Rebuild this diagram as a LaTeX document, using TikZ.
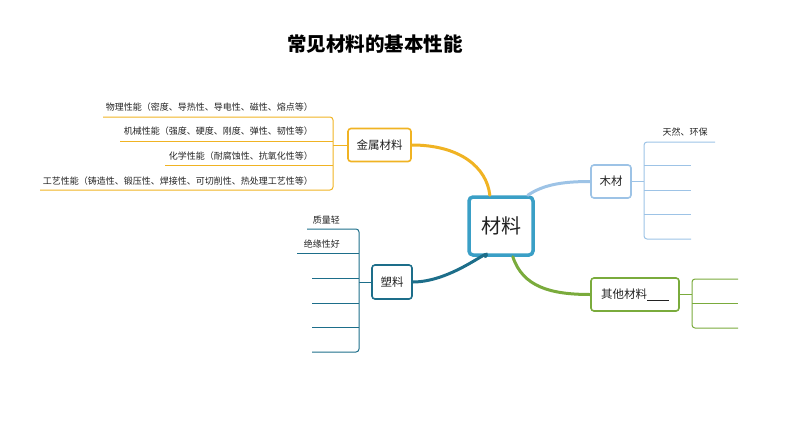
\documentclass[tikz,border=0pt]{standalone}
\usepackage{fontspec}
\setmainfont{Noto Sans CJK SC}
\usetikzlibrary{calc}
\definecolor{cmetal}{HTML}{F0B323}
\definecolor{croot}{HTML}{3A9FC6}
\definecolor{cplast}{HTML}{1D6E8A}
\definecolor{cwood}{HTML}{9DC3E6}
\definecolor{cother}{HTML}{7AAB3C}
\definecolor{ctext}{HTML}{222222}
\tikzset{
  branch/.style={draw, fill=white, line width=1.6pt, rounded corners=3pt, inner sep=0pt, text=ctext, font=\fontsize{11.5}{12}\selectfont},
  leaf/.style={inner sep=0pt, text=ctext, font=\fontsize{9}{10}\selectfont},
  bracket/.style={line width=1pt, rounded corners=3pt},
  mainlink/.style={line width=3pt, line cap=round},
}
\begin{document}
\begin{tikzpicture}[x=1pt,y=-1pt]
\useasboundingbox (0,0) rectangle (794,447);
% title
\node[inner sep=0pt, font=\fontsize{19.5}{20}\selectfont\bfseries] (title) at (375,44) {常见材料的基本性能};
% root
\node[draw=croot, fill=white, line width=3.5pt, rounded corners=4pt, minimum width=64pt, minimum height=58pt, inner sep=0pt, text=ctext, font=\fontsize{20}{22}\selectfont] (root) at (501,226) {材料};
% branches
\node[branch, draw=cmetal, minimum width=63pt, minimum height=33pt] (metal) at (379.5,145) {金属材料};
\node[branch, draw=cplast, minimum width=40pt, minimum height=34pt] (plast) at (392,282) {塑料};
\node[branch, draw=cwood, minimum width=40pt, minimum height=33pt] (wood) at (611,181.5) {木材};
\node[branch, draw=cother, minimum width=88pt, minimum height=33pt] (other) at (635,294.5) {其他材料\underline{\hspace{22pt}}};
% main links
\draw[mainlink, cmetal] (metal.east) .. controls +(48,0) and +(-3,-28) .. (root.110);
\draw[mainlink, cplast] (plast.east) .. controls +(40,0) and +(8,-12) .. (root.243);
\draw[mainlink, cwood] (root.49) .. controls +(15,-10) and +(-30,0) .. (wood.west);
\draw[mainlink, cother] (root.291) .. controls +(10,30) and +(-40,0) .. (other.west);
% metal bracket
\coordinate (mb) at (333,145);
\draw[cmetal, line width=1pt] (metal.west) -- (mb);
\draw[cmetal, bracket] (103,117) -- (333,117) -- (333,190) -- (40,190);
\draw[cmetal, line width=1pt] (120,141.5) -- (333,141.5);
\draw[cmetal, line width=1pt] (165,165.5) -- (333,165.5);
\node[leaf, anchor=base east] (m1) at (313,110) {物理性能（密度、导热性、导电性、磁性、熔点等）};
\node[leaf, anchor=base east] (m2) at (313,134.5) {机械性能（强度、硬度、刚度、弹性、韧性等）};
\node[leaf, anchor=base east] (m3) at (313,159) {化学性能（耐腐蚀性、抗氧化性等）};
\node[leaf, anchor=base east] (m4) at (313,184) {工艺性能（铸造性、锻压性、焊接性、可切削性、热处理工艺性等）};
% plastic bracket
\coordinate (pb) at (359,282);
\draw[cplast, line width=1pt] (plast.west) -- (pb);
\draw[cplast, bracket] (307,229) -- (359,229) -- (359,352) -- (312,352);
\draw[cplast, line width=1pt] (297,253.5) -- (359,253.5);
\draw[cplast, line width=1pt] (312,278.5) -- (359,278.5);
\draw[cplast, line width=1pt] (312,303) -- (359,303);
\draw[cplast, line width=1pt] (312,327.5) -- (359,327.5);
\node[leaf, anchor=base east] (p1) at (340,223.5) {质量轻};
\node[leaf, anchor=base east] (p2) at (340,247.5) {绝缘性好};
% wood bracket
\coordinate (wb) at (644,181.5);
\draw[cwood, line width=1pt] (wood.east) -- (wb);
\draw[cwood, bracket] (715,142) -- (644,142) -- (644,239) -- (691,239);
\draw[cwood, line width=1pt] (644,165.5) -- (691,165.5);
\draw[cwood, line width=1pt] (644,190) -- (691,190);
\draw[cwood, line width=1pt] (644,214.5) -- (691,214.5);
\node[leaf, anchor=base west] (w1) at (662.5,135.5) {天然、环保};
% other bracket
\coordinate (ob) at (692,294.5);
\draw[cother, line width=1pt] (other.east) -- (ob);
\draw[cother, bracket] (738,279) -- (692,279) -- (692,328) -- (738,328);
\draw[cother, line width=1pt] (692,303.5) -- (738,303.5);
\end{tikzpicture}
\end{document}
